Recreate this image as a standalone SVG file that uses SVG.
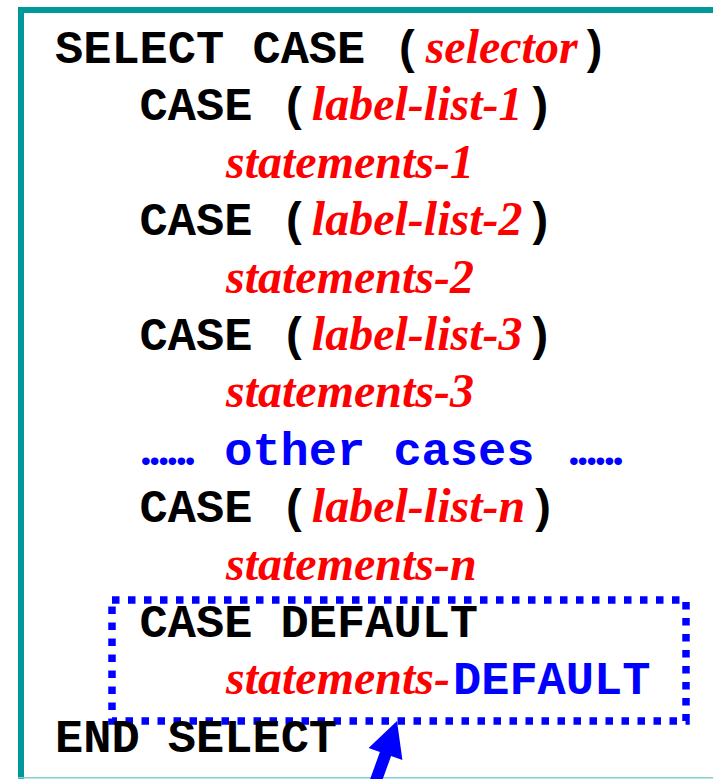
<svg xmlns="http://www.w3.org/2000/svg" width="713" height="779" viewBox="0 0 713 779">
<style>
.kw{font-family:"Liberation Mono","Courier New",monospace;font-weight:bold;font-size:47px;fill:#000}
.it{font-family:"Liberation Serif","Times New Roman",serif;font-style:italic;font-weight:bold;font-size:48px;fill:#ff0000}
.bl{fill:#0000ff}
.dots{font-family:"Liberation Serif","Times New Roman",serif;font-weight:bold;font-size:47px;fill:#0000ff}
</style>
<rect width="713" height="779" fill="#fff"/>
<g id="frame">
<path d="M21,779 V10 H713" fill="none" stroke="#009999" stroke-width="6"/>
<line x1="18" y1="777.8" x2="713" y2="777.8" stroke="#7fcfcf" stroke-width="1.6"/>
</g>
<g id="select"><text class="kw" x="55" y="63">SELECT CASE (<tspan class="it" dx="4">selector</tspan><tspan dx="2">)</tspan></text></g>
<g id="case1">
<text class="kw" x="139.6" y="120.4">CASE (<tspan class="it" dx="3">label-list-1</tspan><tspan dx="3">)</tspan></text>
<text class="it" x="226" y="177.8">statements-1</text>
</g>
<g id="case2">
<text class="kw" x="139.6" y="235.2">CASE (<tspan class="it" dx="3">label-list-2</tspan><tspan dx="3">)</tspan></text>
<text class="it" x="226" y="292.6">statements-2</text>
</g>
<g id="case3">
<text class="kw" x="139.6" y="350">CASE (<tspan class="it" dx="3">label-list-3</tspan><tspan dx="3">)</tspan></text>
<text class="it" x="226" y="407.4">statements-3</text>
</g>
<g id="other">
<text class="dots" x="140" y="464.8" textLength="56" lengthAdjust="spacing">......</text>
<text class="kw bl" x="224.2" y="464.8">other cases</text>
<text class="dots" x="568" y="464.8" textLength="56" lengthAdjust="spacing">......</text>
</g>
<g id="casen">
<text class="kw" x="139.6" y="522.2">CASE (<tspan class="it" dx="3">label-list-n</tspan><tspan dx="3">)</tspan></text>
<text class="it" x="226" y="579.6">statements-n</text>
</g>
<g id="default">
<rect x="112" y="600" width="574" height="121" fill="none" stroke="#0000ff" stroke-width="7.5" stroke-dasharray="7.5 8.5"/>
<text class="kw" x="139.6" y="637">CASE DEFAULT</text>
<text class="it" x="226" y="694.4">statements-<tspan class="kw bl" font-style="normal" dx="3">DEFAULT</tspan></text>
</g>
<g id="end"><text class="kw" x="55" y="751.8">END SELECT</text></g>
<g id="connectors">
<polygon points="397,721 402.4,760.1 391.1,756 379.9,787 368.7,783 379.9,752 368.6,747.9" fill="#0000ff"/>
</g>
</svg>
